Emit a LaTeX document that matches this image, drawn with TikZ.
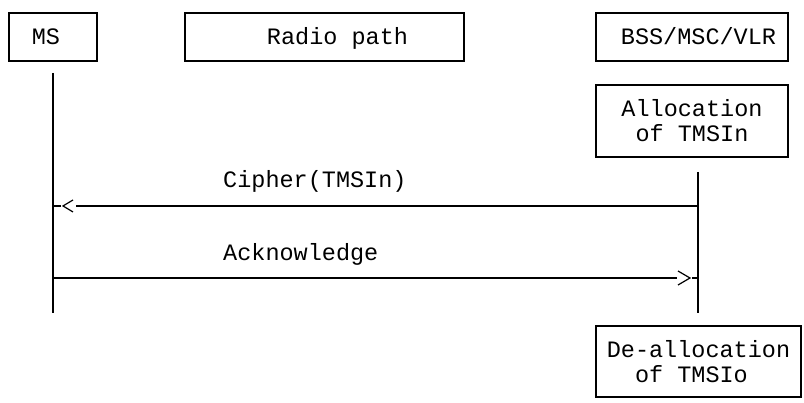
\documentclass[tikz,border=0pt]{standalone}
\usepackage{fontspec}
\newfontfamily\monof{Liberation Mono}
\usetikzlibrary{calc}
\newcommand{\msp}{\hspace*{14.1pt}}
\begin{document}
\begin{tikzpicture}[x=1pt,y=-1pt,
  dfont/.style={font={\monof\fontsize{23.5pt}{25pt}\selectfont}},
  box/.style={draw, line width=1.2pt, inner sep=0pt, dfont},
  oneline/.style={text height=18pt, text depth=2pt, minimum height=48pt},
  msg/.style={line width=1.2pt},
  lbl/.style={dfont, inner sep=0pt, anchor=base west}]
\useasboundingbox (0,0) rectangle (804,403);
% header boxes
\node[box, oneline, minimum width=88pt] (ms) at (53,37) {MS\hspace*{14pt}};
\node[box, oneline, minimum width=279pt] (radio) at (324.5,37) {\hspace*{26pt}Radio\msp path};
\node[box, oneline, minimum width=192pt] (bss) at (692,37) {\hspace*{13pt}BSS/MSC/VLR};
% action boxes
\node[box, minimum width=192pt, minimum height=72pt, align=center] (alloc) at (692,121) {Allocation\\of\msp TMSIn};
\node[box, minimum width=205pt, minimum height=71pt, align=left] (dealloc) at (698.5,361.5) {De-allocation\\\phantom{xx}of\msp TMSIo};
% lifelines
\coordinate (msTop) at (53,73);
\coordinate (msBot) at (53,313);
\coordinate (bssTop) at (698,172);
\coordinate (bssBot) at (698,313);
\draw[msg] (msTop) -- (msBot);
\draw[msg] (bssTop) -- (bssBot);
% Cipher(TMSIn): BSS -> MS
\coordinate (c1) at (bssTop |- 0,206);
\coordinate (c2) at (msTop |- 0,206);
\draw[msg] (c1) -- ($(c2)+(23,0)$);
\draw[msg] ($(c2)+(20,-6)$) -- ($(c2)+(10,0)$) -- ($(c2)+(20,6)$);
\draw[msg] (c2) -- ($(c2)+(8,0)$);
\node[lbl] (cipher) at (223,188) {Cipher(TMSIn)};
% Acknowledge: MS -> BSS
\coordinate (a1) at (msTop |- 0,278);
\coordinate (a2) at (bssTop |- 0,278);
\draw[msg] (a1) -- ($(a2)+(-21,0)$);
\draw[msg] ($(a2)+(-20,-7)$) -- ($(a2)+(-8,0)$) -- ($(a2)+(-20,7)$);
\draw[msg] ($(a2)+(-6,0)$) -- (a2);
\node[lbl] (ack) at (223,261) {Acknowledge};
\end{tikzpicture}
\end{document}
